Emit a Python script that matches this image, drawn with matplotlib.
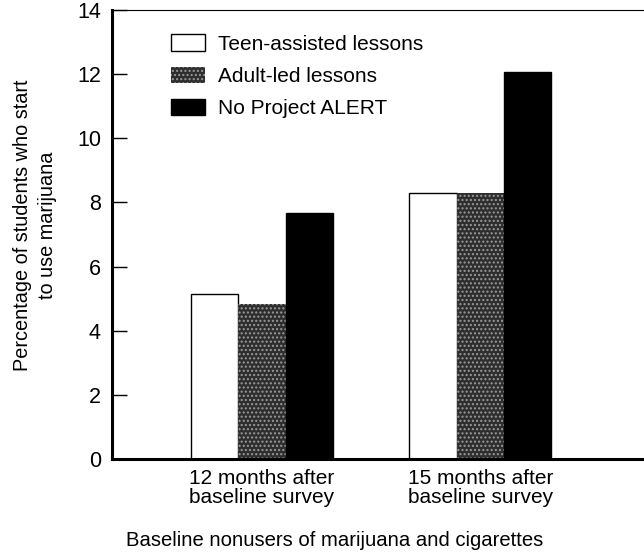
import numpy as np
import matplotlib.pyplot as plt

plt.rcParams['font.family'] = ['Liberation Sans', 'DejaVu Sans']
plt.rcParams['hatch.linewidth'] = 1.0

# Daten
gruppen = ['12 months after\nbaseline survey', '15 months after\nbaseline survey']
serien = ['Teen-assisted lessons', 'Adult-led lessons', 'No Project ALERT']
teen = [5.15, 8.28]
adult = [4.84, 8.28]
keine = [7.68, 12.07]

x = np.arange(len(gruppen))
w = 0.2166

fig = plt.figure(figsize=(6.44, 5.54), dpi=100)
ax = fig.add_axes([112/644, 1-459/554, 1-112/644 + 0.01, (459-10)/554])

ax.bar(x - w, teen, w, color='white', edgecolor='black', linewidth=1, label=serien[0])
ax.bar(x, adult, w, color='#2e2e2e', edgecolor='#9a9a9a', linewidth=0, hatch='....', label=serien[1])
ax.bar(x + w, keine, w, color='black', edgecolor='black', linewidth=1, label=serien[2])

ax.set_xlim(-0.687, 1.78)
ax.set_ylim(0, 14)
ax.set_yticks(np.arange(0, 15, 2))
ax.set_xticks(x)
ax.set_xticklabels(gruppen, fontsize=15, linespacing=1.05)
ax.tick_params(axis='x', length=0, pad=7)
ax.tick_params(axis='y', direction='in', length=11, width=1, labelsize=15.5, pad=8)

ax.spines['left'].set_linewidth(2.2)
ax.spines['bottom'].set_linewidth(2.2)
ax.spines['top'].set_linewidth(0.8)
ax.spines['right'].set_visible(False)

# Achsenbeschriftungen (Position in Pixeln der Vorlage)
ax.set_ylabel('Percentage of students who start\nto use marijuana', fontsize=14.3, linespacing=1.35)
ax.yaxis.set_label_coords(35/644, 1-225/554, transform=fig.transFigure)
ax.yaxis.label.set_va('center')

ax.set_xlabel('Baseline nonusers of marijuana and cigarettes', fontsize=14.6)
ax.xaxis.set_label_coords(335/644, 1-541/554, transform=fig.transFigure)
ax.xaxis.label.set_va('center')

leg = ax.legend(loc='upper left', bbox_to_anchor=(161/644, 1-24/554), bbox_transform=fig.transFigure,
                frameon=False, borderpad=0, fontsize=15, handlelength=1.6, handleheight=0.82,
                labelspacing=0.62, handletextpad=0.62)

plt.savefig('out.png', dpi=100)
